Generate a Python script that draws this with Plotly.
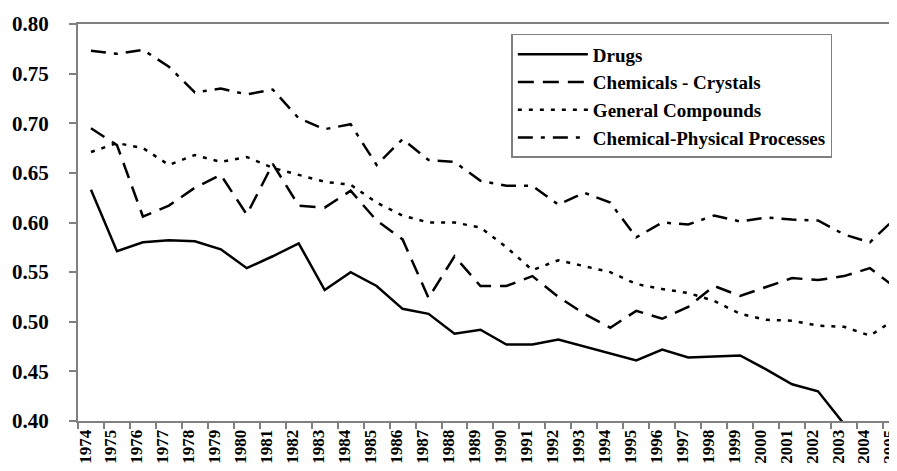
import plotly.graph_objects as go

years = [str(y) for y in range(1974, 2006)]

drugs = [0.633, 0.571, 0.580, 0.582, 0.581, 0.573, 0.554, 0.566, 0.579, 0.532,
         0.550, 0.536, 0.513, 0.508, 0.488, 0.492, 0.477, 0.477, 0.482, 0.475,
         0.468, 0.461, 0.472, 0.464, 0.465, 0.466, 0.452, 0.437, 0.430, 0.397,
         None, None]

crystals = [0.695, 0.678, 0.606, 0.617, 0.635, 0.648, 0.608, 0.659, 0.617, 0.615,
            0.632, 0.602, 0.583, 0.524, 0.566, 0.536, 0.536, 0.546, 0.525, 0.508,
            0.494, 0.511, 0.503, 0.515, 0.536, 0.526, 0.535, 0.544, 0.542, 0.546,
            0.554, 0.534]

compounds = [0.671, 0.680, 0.675, 0.658, 0.668, 0.661, 0.666, 0.655, 0.648, 0.641,
             0.638, 0.620, 0.607, 0.600, 0.600, 0.595, 0.575, 0.552, 0.562, 0.556,
             0.550, 0.538, 0.533, 0.529, 0.521, 0.508, 0.502, 0.501, 0.496, 0.495,
             0.486, 0.503]

processes = [0.773, 0.770, 0.774, 0.757, 0.731, 0.735, 0.729, 0.734, 0.705, 0.694,
             0.699, 0.658, 0.684, 0.663, 0.661, 0.642, 0.637, 0.637, 0.618, 0.630,
             0.620, 0.585, 0.600, 0.598, 0.607, 0.601, 0.605, 0.603, 0.602, 0.588,
             0.580, 0.605]

names = ["Drugs", "Chemicals - Crystals", "General Compounds", "Chemical-Physical Processes"]
series = [drugs, crystals, compounds, processes]
dashes = ["solid", "16px,9px", "4px,7px", "15px,8px,4px,8px"]

FONT = "Times New Roman, Liberation Serif, serif"

fig = go.Figure()
for nm, vals, d in zip(names, series, dashes):
    fig.add_trace(go.Scatter(
        x=years, y=vals, name=nm, mode="lines",
        line=dict(color="black", width=2.5, dash=d),
        connectgaps=False,
    ))

fig.update_layout(
    width=897, height=471,
    margin=dict(l=70, r=0, t=16, b=58),
    paper_bgcolor="white", plot_bgcolor="white",
    font=dict(family=FONT, color="black"),
    legend=dict(
        x=0.524, y=0.975, xanchor="left", yanchor="top",
        bordercolor="#808080", borderwidth=1.5,
        font=dict(family=FONT, size=19, color="black", weight="bold"),
        bgcolor="white",
        tracegroupgap=0,
        itemwidth=70,
    ),
    showlegend=True,
)

fig.update_xaxes(
    type="category",
    range=[-0.5, 31.35],
    tickson="boundaries",
    ticks="outside", ticklen=6, tickwidth=1.5, tickcolor="#808080",
    tickangle=-90,
    ticklabelshift=-6,
    tickfont=dict(family=FONT, size=17, color="black", weight="bold"),
    showline=True, linecolor="#808080", linewidth=2, mirror=True,
    showgrid=False, zeroline=False,
)

fig.update_yaxes(
    range=[0.40, 0.80],
    dtick=0.05, tick0=0.40, tickformat=".2f",
    ticks="outside", ticklen=7, tickwidth=1.5, tickcolor="#808080",
    ticklabelstandoff=16,
    tickfont=dict(family=FONT, size=21, color="black", weight="bold"),
    showline=True, linecolor="#808080", linewidth=2,
    showgrid=False, zeroline=False,
)

fig.write_html("out.html")
